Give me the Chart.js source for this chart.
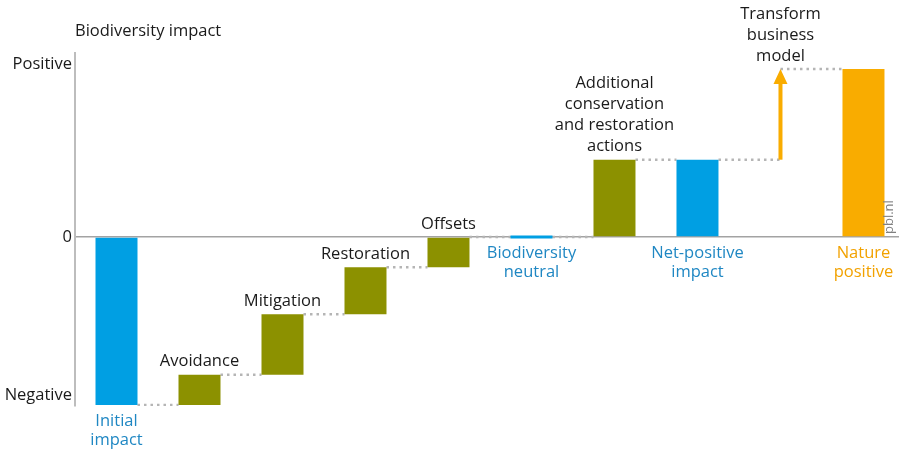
<!DOCTYPE html>
<html>
<head>
<meta charset="utf-8">
<script src="https://cdn.jsdelivr.net/npm/chart.js@4/dist/chart.umd.min.js"></script>
<style>
  html, body { margin: 0; padding: 0; background: #fff; }
  #wrap { width: 899px; height: 454px; }
</style>
</head>
<body>
<div id="wrap"><canvas id="grafico"></canvas></div>
<script>
// dados do gráfico (valores relativos: -1 = negativo, 1 = positivo)
const categorias = [
  ["Initial", "impact"],
  ["Avoidance"],
  ["Mitigation"],
  ["Restoration"],
  ["Offsets"],
  ["Biodiversity", "neutral"],
  ["Additional", "conservation", "and restoration", "actions"],
  ["Net-positive", "impact"],
  ["Transform", "business", "model"],
  ["Nature", "positive"]
];
const inicio = [0, -1.0, -0.82, -0.46, -0.18, 0, 0, 0, 0.46, 0];
const fim = [-1.0, -0.82, -0.46, -0.18, 0, 0, 0.46, 0.46, 1.0, 1.0];
const tipo = ["impacto", "passo", "passo", "passo", "passo", "impacto", "passo", "impacto", "seta", "positivo"];
const ticksValores = [-0.94, 0, 1.03];
const ticksTextos = ["Negative", "0", "Positive"];

const AZUL = "#009fe3";
const OLIVA = "#8c9100";
const LARANJA = "#f9ac00";
const corBarra = { impacto: AZUL, passo: OLIVA, positivo: LARANJA };
const corTexto = { impacto: "#1f87c3", passo: "#1a1a1a", seta: "#1a1a1a", positivo: "#f2a200" };
const FONTE = "'Open Sans', 'Noto Sans', sans-serif";
const TAM = 16.5;
const LARG_BARRA = 0.506;

// barras flutuantes
const barras = [];
const coresBarras = [];
tipo.forEach((t, i) => {
  if (t === "seta") return;
  barras.push({ x: i, y: [inicio[i], fim[i]] });
  coresBarras.push(corBarra[t]);
});

// linhas pontilhadas entre as barras
const conectores = [];
for (let i = 0; i < tipo.length - 1; i++) {
  const x0 = i + (tipo[i] === "seta" ? 0 : LARG_BARRA / 2);
  const x1 = i + 1 - (tipo[i + 1] === "seta" ? 0 : LARG_BARRA / 2);
  conectores.push({ x: x0, y: fim[i] }, { x: x1, y: fim[i] }, { x: x1, y: null });
}

const textos = {
  id: "textos",
  afterDatasetsDraw(chart) {
    const c = chart.ctx;
    const xs = chart.scales.x;
    const ys = chart.scales.y;
    c.save();

    // título do eixo
    c.font = TAM + "px " + FONTE;
    c.fillStyle = "#1a1a1a";
    c.textAlign = "left";
    c.textBaseline = "middle";
    c.fillText("Biodiversity impact", 75, 31);

    // seta laranja
    const i8 = tipo.indexOf("seta");
    const ax = xs.getPixelForValue(i8);
    const yBase = ys.getPixelForValue(inicio[i8]);
    const yPonta = ys.getPixelForValue(fim[i8]);
    c.strokeStyle = LARANJA;
    c.fillStyle = LARANJA;
    c.lineWidth = 4;
    c.beginPath();
    c.moveTo(ax, yBase);
    c.lineTo(ax, yPonta + 14);
    c.stroke();
    c.beginPath();
    c.moveTo(ax, yPonta);
    c.lineTo(ax - 7, yPonta + 15);
    c.lineTo(ax + 7, yPonta + 15);
    c.closePath();
    c.fill();

    // rótulos das categorias
    c.font = TAM + "px " + FONTE;
    c.textAlign = "center";
    c.textBaseline = "middle";
    categorias.forEach((linhas, i) => {
      const x = xs.getPixelForValue(i);
      c.fillStyle = corTexto[tipo[i]];
      if (tipo[i] === "passo" || tipo[i] === "seta") {
        const topo = ys.getPixelForValue(Math.max(inicio[i], fim[i]));
        const ultima = topo - 13;
        linhas.forEach((l, k) => {
          c.fillText(l, x, ultima - (linhas.length - 1 - k) * 21);
        });
      } else {
        const baixo = ys.getPixelForValue(Math.min(inicio[i], fim[i], 0));
        const primeira = baixo + 16;
        linhas.forEach((l, k) => {
          c.fillText(l, x, primeira + k * 19.5);
        });
      }
    });

    // marca pbl.nl
    c.translate(893, 234);
    c.rotate(-Math.PI / 2);
    c.font = "13px " + FONTE;
    c.fillStyle = "#808080";
    c.textAlign = "left";
    c.textBaseline = "alphabetic";
    c.fillText("pbl.nl", 0, 0);
    c.restore();
  }
};

const ctx = document.getElementById("grafico").getContext("2d");
const grafico = new Chart(ctx, {
  type: "bar",
  data: {
    datasets: [
      {
        type: "line",
        data: conectores,
        borderColor: "#b5b5b5",
        borderWidth: 2.5,
        borderDash: [2.5, 4],
        pointRadius: 0,
        spanGaps: false,
        order: 2
      },
      {
        data: barras,
        backgroundColor: coresBarras,
        borderWidth: 0,
        minBarLength: 3,
        categoryPercentage: 1,
        barPercentage: LARG_BARRA,
        order: 1
      }
    ]
  },
  options: {
    responsive: true,
    maintainAspectRatio: false,
    animation: false,
    events: [],
    layout: { padding: { top: 53, bottom: 48, left: 0, right: 0 } },
    plugins: {
      legend: { display: false },
      tooltip: { enabled: false }
    },
    scales: {
      x: {
        type: "linear",
        display: false,
        min: -0.5,
        max: 9.428,
        offset: false
      },
      y: {
        min: -1.006,
        max: 1.095,
        afterFit: (s) => { s.width = 75; },
        afterBuildTicks: (s) => { s.ticks = ticksValores.map((v) => ({ value: v })); },
        ticks: {
          padding: 3,
          color: "#1a1a1a",
          font: { family: FONTE, size: TAM },
          callback: (v) => ticksTextos[ticksValores.indexOf(v)]
        },
        grid: {
          drawTicks: false,
          color: (c) => (c.tick && c.tick.value === 0 ? "#a3a3a3" : "rgba(0,0,0,0)"),
          lineWidth: 1.5
        },
        border: { display: true, color: "#bdbdbd", width: 2 }
      }
    }
  },
  plugins: [textos]
});
</script>
</body>
</html>
